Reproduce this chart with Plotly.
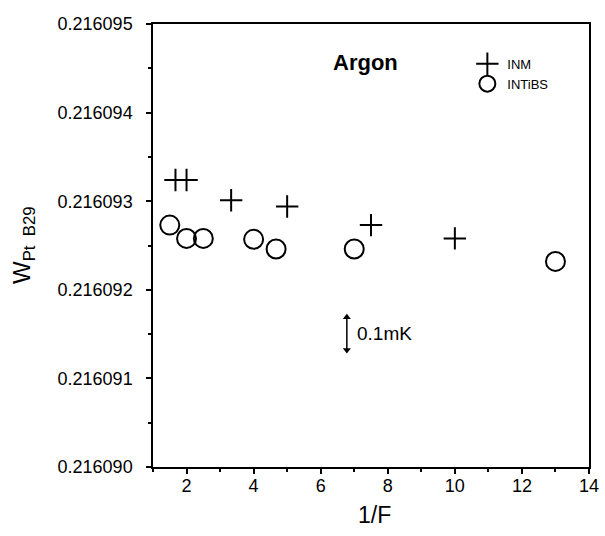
import plotly.graph_objects as go

# Data
inm_x = [1.67, 2.0, 3.33, 5.0, 7.5, 10.0]
inm_y = [0.21609324, 0.21609324, 0.21609301, 0.21609294, 0.21609273, 0.21609258]

intibs_x = [1.5, 2.0, 2.5, 4.0, 4.67, 7.0, 13.0]
intibs_y = [0.21609273, 0.21609258, 0.21609258, 0.21609257, 0.21609246, 0.21609246, 0.21609232]

x_ticks = [2, 4, 6, 8, 10, 12, 14]
y_ticks = [0.216090, 0.216091, 0.216092, 0.216093, 0.216094, 0.216095]
y_tick_labels = ["0.216090", "0.216091", "0.216092", "0.216093", "0.216094", "0.216095"]

# 0.1 mK scale bar (data coordinates)
bar_x = [6.78, 6.78]
bar_y = [0.21609132, 0.21609169]

FONT = "Liberation Sans, Arial, sans-serif"

fig = go.Figure()
fig.add_trace(go.Scatter(
    x=inm_x, y=inm_y, mode="markers", name="INM",
    marker=dict(symbol="cross-thin", size=16, color="black",
                line=dict(width=2, color="black")),
))
fig.add_trace(go.Scatter(
    x=intibs_x, y=intibs_y, mode="markers", name="INTiBS",
    marker=dict(symbol="circle-open", size=19, color="black",
                line=dict(width=2, color="black")),
))
# double-headed scale arrow
fig.add_trace(go.Scatter(
    x=bar_x, y=bar_y, mode="lines+markers", showlegend=False, hoverinfo="skip",
    line=dict(color="black", width=1.5),
    marker=dict(symbol=["triangle-down", "triangle-up"], size=7, color="black"),
))

fig.add_annotation(
    x=bar_x[0] + 0.25, y=(bar_y[0] + bar_y[1]) / 2, xref="x", yref="y",
    text="0.1mK", showarrow=False, xanchor="left", yanchor="middle",
    font=dict(family=FONT, size=19, color="black"),
)
fig.add_annotation(
    x=0.487, y=0.912, xref="paper", yref="paper", text="<b>Argon</b>",
    showarrow=False, xanchor="center", yanchor="middle",
    font=dict(family=FONT, size=22, color="black"),
)
fig.add_annotation(
    x=0.507, y=-0.108, xref="paper", yref="paper", text="1/F",
    showarrow=False, xanchor="center", yanchor="middle",
    font=dict(family=FONT, size=23, color="black"),
)
fig.add_annotation(
    x=-0.297, y=0.5, xref="paper", yref="paper",
    text="W<sub>Pt  B29</sub>", textangle=-90,
    showarrow=False, xanchor="center", yanchor="middle",
    font=dict(family=FONT, size=24, color="black"),
)

axis_common = dict(
    showline=True, linecolor="black", linewidth=1.5, mirror=True,
    showgrid=False, zeroline=False, ticks="outside", ticklen=5,
    tickcolor="black", tickwidth=1.5,
    tickfont=dict(family=FONT, size=18, color="black"),
    ticklabeloverflow="allow",
)

fig.update_xaxes(
    range=[1, 14], tickvals=x_ticks,
    minor=dict(dtick=1, tick0=1, ticks="outside", ticklen=3, tickcolor="black"),
    ticklabelstandoff=-3,
    **axis_common,
)
fig.update_yaxes(
    range=[0.216090, 0.216095], tickvals=y_ticks, ticktext=y_tick_labels,
    minor=dict(dtick=5e-7, tick0=0.216090, ticks="outside", ticklen=3, tickcolor="black"),
    ticklabelstandoff=10,
    **axis_common,
)

fig.update_layout(
    width=605, height=536,
    margin=dict(l=153, r=6, t=24, b=69),
    paper_bgcolor="white", plot_bgcolor="white",
    showlegend=True,
    legend=dict(
        x=0.721, y=0.944, xanchor="left", yanchor="top",
        font=dict(family=FONT, size=13, color="black"),
        bgcolor="rgba(0,0,0,0)", borderwidth=0,
        tracegroupgap=0, itemsizing="trace",
    ),
)

fig.write_html(
    "out.html",
    config={"displayModeBar": False},
    post_script=(
        "document.body.style.margin='0';"
        "document.body.style.overflow='hidden';"
        "document.documentElement.style.overflow='hidden';"
    ),
)
